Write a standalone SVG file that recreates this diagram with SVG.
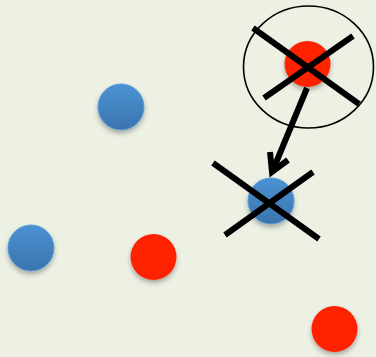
<svg xmlns="http://www.w3.org/2000/svg" width="376" height="357" viewBox="0 0 376 357">
<defs>
<linearGradient id="blue" x1="0" y1="0" x2="0" y2="1">
<stop offset="0" stop-color="#4b92d3"/>
<stop offset="1" stop-color="#3b74ad"/>
</linearGradient>
<filter id="sh" x="-50%" y="-50%" width="200%" height="200%">
<feDropShadow dx="0" dy="3" stdDeviation="2.5" flood-color="#000" flood-opacity="0.3"/>
</filter>
<style>
.blue{fill:url(#blue);stroke:#5a9ad6;stroke-width:1;filter:url(#sh)}
.red{fill:#ff2200;filter:url(#sh)}
.x{stroke:#000;stroke-width:6;stroke-linecap:butt;fill:none}
.conn{stroke:#000;stroke-width:6;fill:none;stroke-linejoin:miter}
</style>
</defs>
<rect width="376" height="357" fill="#edf1e4"/>
<g id="n-top-red">
<ellipse cx="308.5" cy="67" rx="65" ry="61" fill="none" stroke="#000" stroke-width="1.6"/>
<circle class="red" cx="307.5" cy="64" r="23"/>
<line class="x" x1="253" y1="28" x2="359" y2="104"/>
<line class="x" x1="353" y1="36" x2="264" y2="98"/>
</g>
<g id="n-mid-blue">
<circle class="blue" cx="271" cy="201" r="23"/>
<line class="x" x1="213" y1="163" x2="319" y2="239"/>
<line class="x" x1="313" y1="172" x2="225" y2="235"/>
</g>
<g id="n-blue1"><circle class="blue" cx="121" cy="107" r="23"/></g>
<g id="n-blue2"><circle class="blue" cx="31" cy="248" r="23"/></g>
<g id="n-red1"><circle class="red" cx="153.5" cy="257" r="23"/></g>
<g id="n-red2"><circle class="red" cx="334.5" cy="329" r="23"/></g>
<g id="connectors">
<line class="conn" x1="307" y1="88" x2="273" y2="170"/>
<polyline class="conn" points="270,152 272,172 288,160"/>
</g>
</svg>
